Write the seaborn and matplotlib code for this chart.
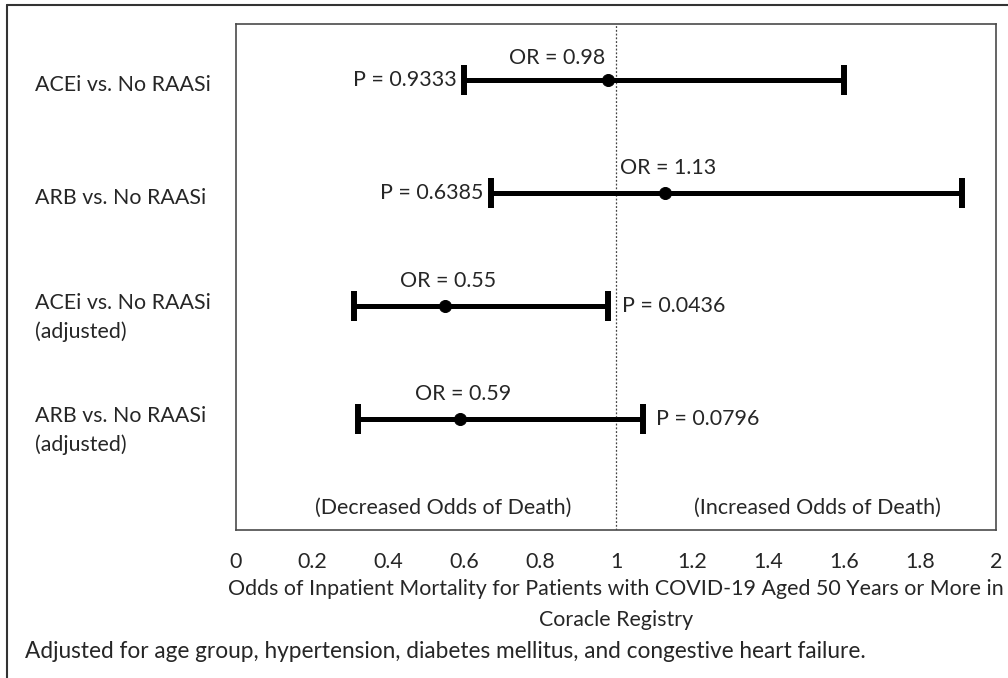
import matplotlib
matplotlib.use("Agg")
import matplotlib.pyplot as plt
import seaborn as sns
import pandas as pd
from matplotlib.lines import Line2D
from matplotlib import transforms

# data
groups = ["ACEi vs. No RAASi", "ARB vs. No RAASi",
          "ACEi vs. No RAASi\n(adjusted)", "ARB vs. No RAASi\n(adjusted)"]
odds = [0.98, 1.13, 0.55, 0.59]
lower = [0.60, 0.67, 0.31, 0.32]
upper = [1.60, 1.91, 0.98, 1.07]
pvals = ["P = 0.9333", "P = 0.6385", "P = 0.0436", "P = 0.0796"]
or_text = ["OR = 0.98", "OR = 1.13", "OR = 0.55", "OR = 0.59"]
xticks = [0, 0.2, 0.4, 0.6, 0.8, 1, 1.2, 1.4, 1.6, 1.8, 2]

df = pd.DataFrame({"group": groups, "odds": odds, "lo": lower, "hi": upper})
df["row"] = range(len(df))

sns.set_style("white")
plt.rcParams["font.family"] = ["Lato", "DejaVu Sans"]
fsize = 15.4

fig = plt.figure(figsize=(10.08, 6.78), dpi=100)
ax = fig.add_axes([236 / 1008, 1 - 530 / 678, 760 / 1008, 506 / 678])

# error bars with caps
ax.errorbar(df["odds"], df["row"],
            xerr=[df["odds"] - df["lo"], df["hi"] - df["odds"]],
            fmt="none", ecolor="black", elinewidth=3.6, capsize=10.5,
            capthick=4.3, zorder=3)
sns.scatterplot(data=df, x="odds", y="row", color="black", s=75,
                edgecolor="black", zorder=4, ax=ax, legend=False)

ax.axvline(1, color="#444444", lw=0.9, ls=(0, (1.5, 1.5)), zorder=1)

ax.set_xlim(0, 2)
ax.set_ylim(3.98, -0.5)
ax.set_xticks(xticks)
ax.set_xticklabels([f"{t:g}" for t in xticks], fontsize=fsize)
ax.set_yticks([])
ax.tick_params(axis="x", length=0, pad=16)
ax.set_xlabel("Odds of Inpatient Mortality for Patients with COVID-19 Aged 50 Years or More in\nCoracle Registry",
              fontsize=fsize, labelpad=5, linespacing=1.65)
ax.set_ylabel("")
for s in ax.spines.values():
    s.set_color("#4a4a4a")
    s.set_linewidth(1.2)

# group labels on the left
trans = transforms.blended_transform_factory(fig.transFigure, ax.transData)
for i, g in enumerate(groups):
    off = 0.1 if "\n" in g else 0.04
    ax.text(35 / 1008, i + off, g, transform=trans, ha="left", va="center",
            fontsize=fsize, linespacing=1.5)

# P values and OR labels
for i in range(len(groups)):
    if i >= 2:
        ax.annotate(pvals[i], (upper[i], i), xytext=(10, 0), textcoords="offset points",
                    ha="left", va="center", fontsize=fsize)
    else:
        ax.annotate(pvals[i], (lower[i], i), xytext=(-5, 0), textcoords="offset points",
                    ha="right", va="center", fontsize=fsize)
    if i == 0:
        ax.annotate(or_text[i], (odds[i], i), xytext=(-2, 16), textcoords="offset points",
                    ha="right", va="center", fontsize=fsize)
    else:
        ax.annotate(or_text[i], (odds[i], i), xytext=(2, 18), textcoords="offset points",
                    ha="center", va="center", fontsize=fsize)

ax.text(0.545, 3.78, "(Decreased Odds of Death)", ha="center", va="center", fontsize=fsize)
ax.text(1.53, 3.78, "(Increased Odds of Death)", ha="center", va="center", fontsize=fsize)

fig.text(25 / 1008, 1 - 651 / 678,
         "Adjusted for age group, hypertension, diabetes mellitus, and congestive heart failure.",
         ha="left", va="center", fontsize=16.3)

# outer frame (left and top edges visible)
fig.add_artist(Line2D([7 / 1008, 7 / 1008], [0, 1 - 5 / 678], transform=fig.transFigure,
                      color="#333333", lw=1.5))
fig.add_artist(Line2D([7 / 1008, 1], [1 - 5 / 678, 1 - 5 / 678], transform=fig.transFigure,
                      color="#333333", lw=1.5))

fig.savefig("out.png", dpi=100)
